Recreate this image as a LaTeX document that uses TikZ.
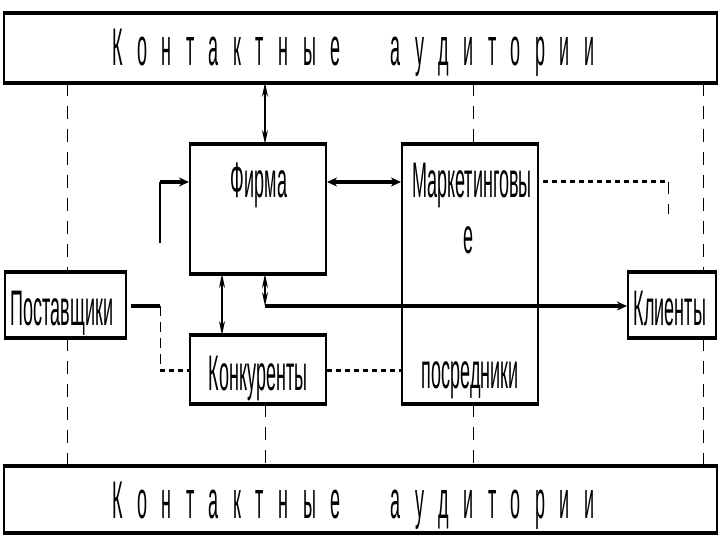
\documentclass[tikz,border=0pt]{standalone}
\usepackage{fontspec}
\usetikzlibrary{arrows.meta}
\newfontfamily\nf[FakeStretch=0.36]{Liberation Sans}
\newfontfamily\bandfont[FakeStretch=0.34]{Liberation Sans}
\begin{document}
\begin{tikzpicture}[x=1pt,y=-1pt,
  bandbox/.style={draw, line width=1.5pt, inner sep=0pt},
  blockbox/.style={draw, line width=2pt, inner sep=0pt},
  hedge/.style={line width=4pt},
  dashv/.style={line width=1pt, dash pattern=on 13pt off 10pt},
  dotl/.style={line width=3pt, dash pattern=on 5pt off 4pt},
  thinarr/.style={line width=1.3pt, {Stealth[length=14pt,width=6pt]}-{Stealth[length=14pt,width=6pt]}},
  thickarr/.style={line width=3.2pt},
  lbl/.style={inner sep=0pt, anchor=base, font=\nf\fontsize{50}{55}\selectfont},
  bandlbl/.style={inner sep=0pt, anchor=base west, font=\bandfont\fontsize{53}{58}\selectfont}
]
\useasboundingbox (0,0) rectangle (720,540);
% columns and rows
\coordinate (c67) at (67,0);
\coordinate (c160) at (160,0);
\coordinate (c222) at (222,0);
\coordinate (c265) at (265,0);
\coordinate (c473) at (473,0);
\coordinate (c668) at (668,0);
\coordinate (c703) at (703,0);
\coordinate (r182) at (0,182);
\coordinate (r243) at (0,243);
\coordinate (r306) at (0,306);
\coordinate (r370) at (0,370);
\coordinate (r214) at (0,214);
% boxes
\node[bandbox, minimum width=713pt, minimum height=68pt] (topband) at (360.5,48) {};
\node[bandbox, minimum width=713pt, minimum height=65pt] (botband) at (360.5,499.5) {};
\node[blockbox, minimum width=136pt, minimum height=128pt] (firma) at (258,209) {};
\node[blockbox, minimum width=136pt, minimum height=258pt] (mkt) at (470,274) {};
\node[blockbox, minimum width=121pt, minimum height=64pt] (post) at (65.5,305) {};
\node[blockbox, minimum width=88pt, minimum height=64pt] (klient) at (672,305) {};
\node[blockbox, minimum width=136pt, minimum height=67pt] (konk) at (258,369.5) {};
\foreach \n in {topband,botband,firma,mkt,post,klient,konk}{
  \draw[hedge] (\n.north west) -- (\n.north east) (\n.south west) -- (\n.south east);
}
% texts
\node[bandlbl] (toptext) at (112,66) {\spaceskip=14.5pt\relax К о н т а к т н ы е\hspace*{50pt}а у д и т о р и и};
\node[bandlbl] (bottext) at (112,518) {\spaceskip=14.5pt\relax К о н т а к т н ы е\hspace*{50pt}а у д и т о р и и};
\node[lbl] (firmat) at (259,198) {Фирма};
\node[lbl] (mktt1) at (472,198) {Маркетинговы};
\node[lbl] (mktt2) at (468,253) {е};
\node[lbl] (mktt3) at (470,388) {посредники};
\node[lbl] (postt) at (62,325) {Поставщики};
\node[lbl] (klientt) at (670,325) {Клиенты};
\node[lbl] (konkt) at (258,390) {Конкуренты};
% dashed verticals
\draw[dashv] (topband.south -| c67) -- (post.north -| c67);
\draw[dashv] (post.south -| c67) -- (botband.north -| c67);
\draw[dashv] (konk.south -| c265) -- (botband.north -| c265);
\draw[dashv] (topband.south -| c473) -- (mkt.north -| c473);
\draw[dashv] (mkt.south -| c473) -- (botband.north -| c473);
\draw[dashv] (topband.south -| c703) -- (klient.north -| c703);
\draw[dashv] (klient.south -| c703) -- (botband.north -| c703);
% arrows
\draw[thinarr] (topband.south -| c265) -- (firma.north -| c265);
\draw[thickarr, {Stealth[length=10pt,width=9pt]}-{Stealth[length=10pt,width=9pt]}] (firma.east |- r182) -- (mkt.west |- r182);
\draw[line width=1.3pt] (c160 |- r243) -- (c160 |- r182);
\draw[thickarr, -{Stealth[length=10pt,width=9pt]}] (c160 |- r182) -- (firma.west |- r182);
\draw[thinarr] (firma.south -| c222) -- (konk.north -| c222);
\draw[thinarr] (firma.south -| c265) -- (c265 |- r306);
\draw[thickarr, -{Stealth[length=10pt,width=9pt]}] (c265 |- r306) -- (klient.west |- r306);
% supplier links
\draw[thickarr] (post.east |- r306) ++(4,0) -- (c160 |- r306);
\draw[dashv, dash pattern=on 10pt off 6pt] (c160 |- r306) -- (c160 |- r370);
\draw[dotl] (c160 |- r370) -- (konk.west |- r370);
\draw[dotl] (konk.east |- r370) -- (mkt.west |- r370);
% marketing to clients dotted
\draw[dotl] (mkt.east |- r182) ++(4,0) -- (c668 |- r182);
\draw[line width=1pt, dash pattern=on 12pt off 10pt] (c668 |- r182) -- (c668 |- r214);
\end{tikzpicture}
\end{document}
